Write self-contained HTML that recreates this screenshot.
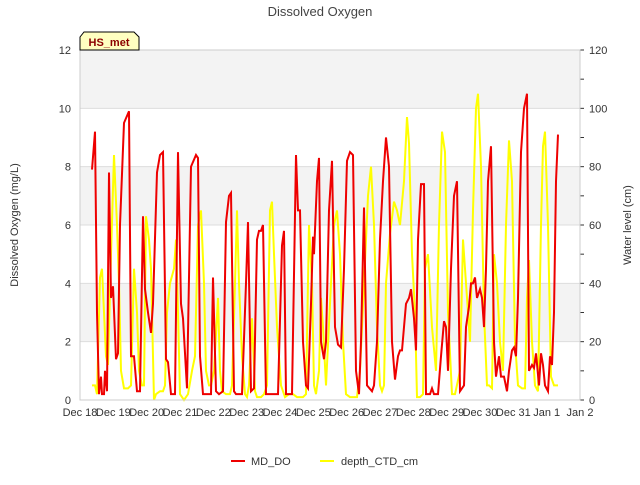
<!DOCTYPE html>
<html><head><meta charset="utf-8"><style>
body{margin:0;background:#fff;font-family:"Liberation Sans",sans-serif}
svg text{font-family:"Liberation Sans",sans-serif}
</style></head><body>
<svg id="c" width="640" height="480">
<rect width="640" height="480" fill="#fff"/>
<text x="320" y="16" text-anchor="middle" font-size="13" fill="#444">Dissolved Oxygen</text>
<g id="bands"></g><g id="grid"></g><g id="axes"></g>
<g id="series"></g>
<rect x="80" y="50" width="500" height="350" fill="none" stroke="#ccc"/>
<g>
<path d="M80,50 L80,37 L84,32 L134,32 L139,37 L139,50 Z" fill="#ffffc0" stroke="#000"/>
<text x="109" y="46" text-anchor="middle" font-size="11" font-weight="bold" fill="#8b0000">HS_met</text></g>
<text transform="translate(18,225) rotate(-90)" text-anchor="middle" font-size="11" fill="#333">Dissolved Oxygen (mg/L)</text>
<text transform="translate(631,225) rotate(-90)" text-anchor="middle" font-size="11" fill="#333">Water level (cm)</text>
<g>
<line x1="231" y1="461" x2="245" y2="461" stroke="#e00" stroke-width="2"/>
<text x="251" y="465" font-size="11" fill="#333">MD_DO</text>
<line x1="320" y1="461" x2="334" y2="461" stroke="#ff0" stroke-width="2"/>
<text x="341" y="465" font-size="11" fill="#333">depth_CTD_cm</text></g>
</svg>
<script>
const xLabels=["Dec 18","Dec 19","Dec 20","Dec 21","Dec 22","Dec 23","Dec 24","Dec 25","Dec 26","Dec 27","Dec 28","Dec 29","Dec 30","Dec 31","Jan 1","Jan 2"];
const yTicks=[0,2,4,6,8,10,12];
const y2Ticks=[0,20,40,60,80,100,120];
const doDays=[.36,.45,.51,.57,.63,.66,.72,.75,.81,.87,.93,.99,1.08,1.14,1.2,1.32,1.47,1.53,1.62,1.71,1.8,1.89,1.95,2.04,2.13,2.19,2.31,2.4,2.49,2.58,2.64,2.73,2.85,2.94,3.03,3.09,3.21,3.33,3.48,3.54,3.6,3.69,3.84,3.93,3.99,4.08,4.17,4.29,4.38,4.47,4.53,4.62,4.68,4.86,4.98,5.04,5.13,5.22,5.31,5.37,5.43,5.49,5.58,5.76,5.94,6.06,6.12,6.18,6.36,6.48,6.54,6.6,6.69,6.78,6.84,6.93,6.99,7.02,7.11,7.17,7.23,7.32,7.38,7.47,7.56,7.65,7.74,7.83,7.92,8.01,8.1,8.19,8.28,8.37,8.43,8.52,8.61,8.76,8.82,8.91,9.0,9.09,9.18,9.27,9.36,9.45,9.54,9.6,9.66,9.72,9.78,9.87,9.93,10.02,10.08,10.14,10.23,10.32,10.38,10.5,10.56,10.62,10.74,10.83,10.92,10.98,11.04,11.13,11.22,11.31,11.4,11.52,11.58,11.67,11.73,11.79,11.85,11.91,12.0,12.06,12.12,12.18,12.24,12.33,12.42,12.48,12.57,12.63,12.72,12.81,12.87,12.96,13.02,13.08,13.14,13.23,13.32,13.41,13.47,13.56,13.62,13.68,13.77,13.83,13.89,13.95,14.04,14.1,14.16,14.22,14.28,14.34];
const doVals=[7.9,9.2,3,0.2,0.8,0.2,0.2,1,0.3,7.8,3.5,3.9,1.4,1.6,6,9.5,9.9,1.5,1.5,0.3,0.3,6.3,3.8,3,2.3,3.3,7.8,8.4,8.5,1.4,1.3,0.2,0.2,8.5,3.3,2.8,0.4,8,8.4,8.3,1.5,0.2,0.2,0.2,4.2,0.3,0.2,0.3,6.1,7,7.1,0.3,0.2,0.2,4,6.1,0.3,0.4,5.5,5.8,5.8,6,0.2,0.2,0.2,5.3,5.8,0.2,0.2,8.4,6.5,6.5,2,0.5,0.4,3.3,5.6,5,7.5,8.3,2,1.4,2,6.5,8.2,2.5,1.9,1.8,4.5,8.2,8.5,8.4,1,0.2,2,6.6,0.5,0.3,0.5,2,5.5,7.5,9,8,2,0.7,1.5,1.7,1.7,2.5,3.3,3.5,3.8,2.8,1.7,5.5,7.4,7.4,0.2,0.2,0.4,0.2,0.2,1.5,2.7,2.5,1,4.5,7,7.5,0.3,0.5,2.5,3.2,4,4,4.2,3.5,3.8,3.5,2.5,4.5,7.5,8.7,2,0.8,1.5,0.8,0.8,0.3,1,1.7,1.8,1.5,3.5,8.5,10,10.5,1,1.2,1.1,1.6,0.5,1.6,1.2,0.5,0.3,1.5,1.2,3,7.5,9.1];
const depthDays=[.36,.45,.51,.6,.66,.72,.78,.84,.93,1.02,1.11,1.17,1.23,1.32,1.44,1.53,1.62,1.71,1.77,1.86,1.92,1.98,2.07,2.13,2.22,2.28,2.4,2.49,2.55,2.61,2.7,2.82,2.88,2.94,3.0,3.12,3.24,3.36,3.45,3.54,3.63,3.72,3.78,3.87,3.93,4.02,4.14,4.2,4.26,4.38,4.5,4.56,4.65,4.71,4.77,4.86,4.95,5.01,5.07,5.16,5.25,5.31,5.43,5.52,5.61,5.7,5.76,5.82,5.91,6.03,6.15,6.27,6.39,6.51,6.69,6.78,6.87,6.96,7.02,7.08,7.17,7.23,7.29,7.38,7.53,7.62,7.71,7.8,7.89,7.98,8.1,8.22,8.31,8.4,8.52,8.64,8.73,8.82,8.91,9.0,9.06,9.12,9.18,9.3,9.42,9.51,9.6,9.72,9.81,9.87,9.96,10.05,10.11,10.2,10.29,10.35,10.44,10.56,10.68,10.77,10.86,10.95,11.04,11.16,11.25,11.4,11.49,11.58,11.7,11.79,11.88,11.94,12.03,12.12,12.21,12.27,12.36,12.42,12.51,12.6,12.69,12.78,12.87,12.96,13.05,13.14,13.26,13.35,13.41,13.47,13.56,13.65,13.74,13.83,13.89,13.95,14.04,14.13,14.22,14.34];
const depthVals=[5,5,2,42,45,30,15,12,50,84,60,40,10,4,4,5,45,30,10,5,5,63,55,45,0,2,3,3,5,30,40,45,55,30,2,0,2,10,15,60,65,40,10,5,5,10,35,10,3,2,2,5,40,65,40,15,2,1,5,28,3,1,1,2,5,65,68,50,25,5,1,2,2,1,1,2,60,40,5,2,10,35,25,5,40,60,65,50,20,2,1,1,1,10,40,70,80,60,25,5,3,5,40,57,68,65,60,75,97,88,50,30,1,1,2,45,50,25,10,60,92,85,30,2,2,10,55,40,20,65,100,105,80,30,5,5,4,50,40,20,10,60,89,75,20,5,4,4,35,48,20,5,3,60,87,92,60,8,5,5];
const X0=80,X1=580,Y0=400,Y1=50;
const xs=d=>X0+d*(X1-X0)/15;
const ys=v=>Y0-v*(Y0-Y1)/12;
const ys2=v=>Y0-v*(Y0-Y1)/120;
const NS="http://www.w3.org/2000/svg";
function mk(p,t,a){const e=document.createElementNS(NS,t);for(const k in a)e.setAttribute(k,a[k]);document.getElementById(p).appendChild(e);return e;}
[[2,4],[6,8],[10,12]].forEach(b=>{const r=mk('bands','rect',{x:X0,y:ys(b[1]),width:X1-X0,height:ys(b[0])-ys(b[1]),fill:'#f3f3f3'});

});
yTicks.forEach(v=>{const l=mk('grid','line',{x1:X0,x2:X1,y1:ys(v),y2:ys(v),stroke:'#ddd'});


const t=mk('axes','text',{x:X0-9,y:ys(v)+4,'text-anchor':'end','font-size':11,fill:'#333'});t.textContent=v;

});
y2Ticks.forEach(v=>{const t=mk('axes','text',{x:X1+9,y:ys2(v)+4,'font-size':11,fill:'#333'});t.textContent=v;

});
for(let v=0;v<=120;v+=10){const l=mk('axes','line',{x1:X1,x2:X1+4,y1:ys2(v),y2:ys2(v),stroke:'#333'});

}
xLabels.forEach((s,i)=>{const t=mk('axes','text',{x:xs(i),y:416,'text-anchor':'middle','font-size':11,fill:'#333'});t.textContent=s;

});
const dp=mk('series','polyline',{points:depthDays.map((d,i)=>xs(d)+','+ys2(depthVals[i])).join(' '),fill:'none',stroke:'#ffff00','stroke-width':2});


const rp=mk('series','polyline',{points:doDays.map((d,i)=>xs(d)+','+ys(doVals[i])).join(' '),fill:'none',stroke:'#ee0000','stroke-width':2});


</script>
</body></html>
